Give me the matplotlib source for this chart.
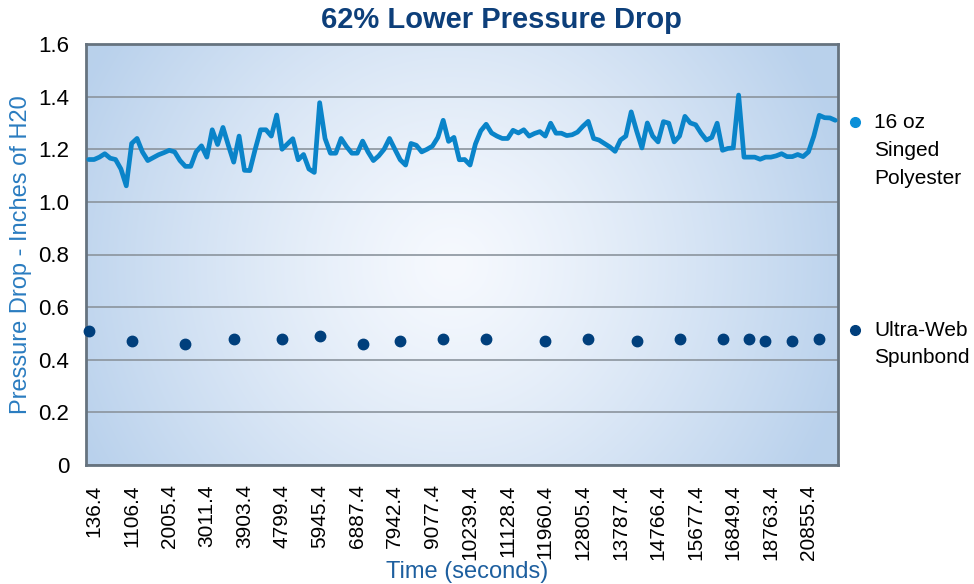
import numpy as np
import matplotlib
matplotlib.use("Agg")
import matplotlib.pyplot as plt
from matplotlib import font_manager

# DATA
TICK_LABELS = ["136.4", "1106.4", "2005.4", "3011.4", "3903.4", "4799.4", "5945.4",
               "6887.4", "7942.4", "9077.4", "10239.4", "11128.4", "11960.4", "12805.4",
               "13787.4", "14766.4", "15677.4", "16849.4", "18763.4", "20855.4"]
TICK_EVERY = 7
TICK_START = 1

polyester = [
    1.161, 1.161, 1.170, 1.183, 1.166, 1.161, 1.125, 1.061, 1.222, 1.241,
    1.190, 1.157, 1.168, 1.179, 1.187, 1.196, 1.190, 1.157, 1.135, 1.135,
    1.190, 1.213, 1.170, 1.274, 1.218, 1.283, 1.215, 1.151, 1.250, 1.120,
    1.119, 1.200, 1.274, 1.274, 1.250, 1.330, 1.200, 1.220, 1.240, 1.160,
    1.180, 1.125, 1.112, 1.377, 1.241, 1.185, 1.185, 1.241, 1.210, 1.185,
    1.185, 1.231, 1.190, 1.157, 1.175, 1.200, 1.241, 1.200, 1.160, 1.140,
    1.222, 1.215, 1.190, 1.200, 1.212, 1.245, 1.310, 1.230, 1.245, 1.160,
    1.161, 1.140, 1.220, 1.270, 1.295, 1.262, 1.250, 1.241, 1.241, 1.272,
    1.262, 1.274, 1.250, 1.260, 1.267, 1.250, 1.299, 1.261, 1.261, 1.252,
    1.255, 1.265, 1.287, 1.306, 1.241, 1.235, 1.222, 1.209, 1.192, 1.235,
    1.250, 1.342, 1.270, 1.205, 1.300, 1.250, 1.228, 1.305, 1.299, 1.228,
    1.250, 1.325, 1.300, 1.293, 1.261, 1.235, 1.245, 1.299, 1.196, 1.203,
    1.205, 1.406, 1.170, 1.170, 1.170, 1.162, 1.170, 1.170, 1.175, 1.183,
    1.172, 1.172, 1.180, 1.172, 1.190, 1.250, 1.329, 1.320, 1.319, 1.310,
]

spunbond_idx = [0, 8, 18, 27, 36, 43, 51, 58, 66, 74, 85, 93, 102, 110, 118, 123, 126, 131, 136]
spunbond = [0.51, 0.47, 0.46, 0.48, 0.48, 0.49, 0.46, 0.47, 0.48, 0.48,
            0.47, 0.48, 0.47, 0.48, 0.48, 0.48, 0.47, 0.47, 0.48]

Y_TICKS = [0, 0.2, 0.4, 0.6, 0.8, 1.0, 1.2, 1.4, 1.6]
Y_LABELS = ["0", "0.2", "0.4", "0.6", "0.8", "1.0", "1.2", "1.4", "1.6"]

# STYLE
LINE_CLR = "#0a84c9"
DOT_CLR = "#003f7c"
TITLE_CLR = "#0d3f7a"
GRID_CLR = "#8b949d"
SPINE_CLR = "#66737f"

installed = {f.name for f in font_manager.fontManager.ttflist}
NARROW = ["Liberation Sans Narrow"] if "Liberation Sans Narrow" in installed else []
NARROW = NARROW + ["Liberation Sans", "DejaVu Sans"]
plt.rcParams["font.family"] = NARROW

fig = plt.figure(figsize=(9.74, 5.84), dpi=100)
ax = fig.add_axes([86 / 974, 1 - 465 / 584, 752 / 974, 421 / 584])

n = len(polyester)
x = np.arange(n)
ax.set_xlim(-0.5, n - 0.5)
ax.set_ylim(0, 1.6)

# radial gradient background
h, w = 421, 752
yy, xx = np.mgrid[0:h, 0:w]
r = np.hypot(xx - 365, yy - 220) / 410.0
t = np.clip(r, 0, 1) ** 1.25
inner = np.array([246, 249, 254]) / 255.0
outer = np.array([185, 209, 236]) / 255.0
img = inner[None, None, :] * (1 - t[..., None]) + outer[None, None, :] * t[..., None]
ax.imshow(img, extent=[-0.5, n - 0.5, 0, 1.6], aspect="auto", origin="upper", zorder=0)

ax.set_axisbelow(True)
ax.grid(axis="y", color=GRID_CLR, linewidth=1.2)
ax.grid(axis="x", visible=False)

ax.plot(x, polyester, color=LINE_CLR, linewidth=3.4, solid_joinstyle="round",
        solid_capstyle="round", zorder=3)
ax.plot(spunbond_idx, spunbond, linestyle="none", marker="o", markersize=7.5,
        color=DOT_CLR, zorder=4, clip_on=False)

for s in ax.spines.values():
    s.set_color(SPINE_CLR)
    s.set_linewidth(2.0)

ax.set_yticks(Y_TICKS)
ax.set_yticklabels(Y_LABELS, fontsize=16)
tick_pos = [TICK_START + TICK_EVERY * k for k in range(len(TICK_LABELS))]
ax.set_xticks(tick_pos)
ax.set_xticklabels(TICK_LABELS, rotation=90, fontsize=15, va="top", ha="center")
ax.tick_params(axis="y", length=0, pad=12)
ax.tick_params(axis="x", length=0, pad=14)

ax.set_ylabel("Pressure Drop - Inches of H20", fontsize=17, color="#2a7cc0", va="center")
ax.yaxis.set_label_coords((21 - 86) / 752, 0.5)
ax.set_xlabel("Time (seconds)", fontsize=17, color="#1d5f9f", va="center")
ax.xaxis.set_label_coords((467 - 86) / 752, (465 - 572) / 421)

fig.text(501 / 974, 1 - 20 / 584, "62% Lower Pressure Drop", ha="center", va="center",
         fontsize=21, fontweight="bold", color=TITLE_CLR, family=["Liberation Sans", "DejaVu Sans"])

# legend
fig.lines.append(plt.Line2D([855 / 974], [1 - 122 / 584], transform=fig.transFigure,
                            marker="o", markersize=7, color="#0b8fd8", linestyle="none"))
fig.lines.append(plt.Line2D([855 / 974], [1 - 330 / 584], transform=fig.transFigure,
                            marker="o", markersize=7, color=DOT_CLR, linestyle="none"))
fig.text(874 / 974, 1 - 113 / 584, "16 oz\nSinged\nPolyester", ha="left", va="top",
         fontsize=15, linespacing=1.6)
fig.text(874 / 974, 1 - 321 / 584, "Ultra-Web\nSpunbond", ha="left", va="top",
         fontsize=15, linespacing=1.55)

fig.savefig("out.png", dpi=100, facecolor="white")
